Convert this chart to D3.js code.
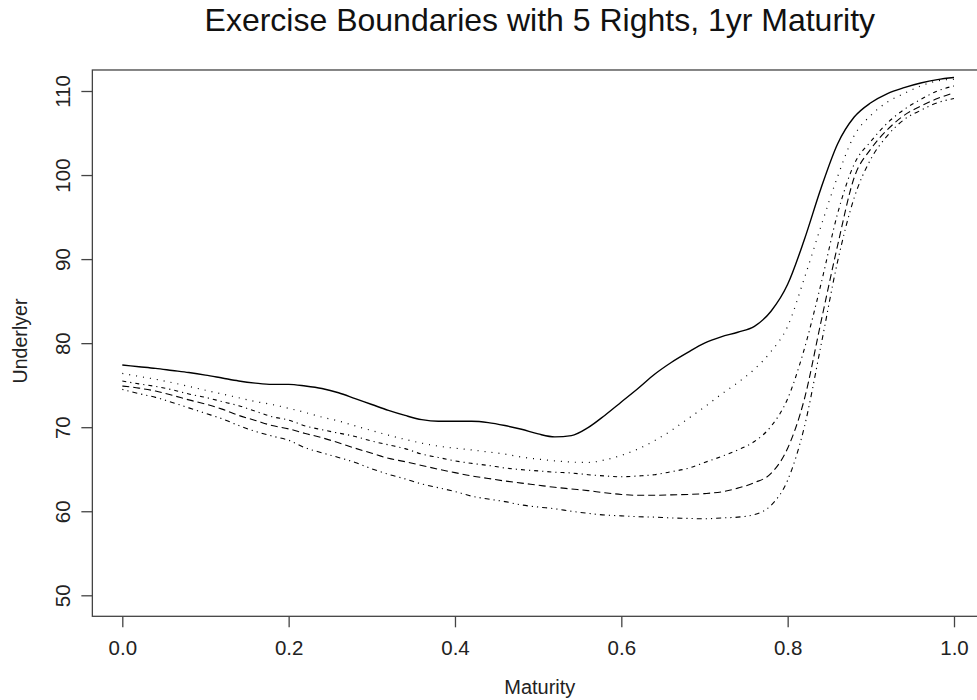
<!DOCTYPE html>
<html>
<head>
<meta charset="utf-8">
<script src="https://cdn.jsdelivr.net/npm/d3@7"></script>
<style>
  html, body { margin: 0; padding: 0; background: #fff; }
  svg { display: block; font-family: "Liberation Sans", Arial, sans-serif; }
</style>
</head>
<body>
<svg id="chart" width="977" height="700"></svg>
<script>
// Time to maturity (years)
const maturity = [0.00,0.02,0.04,0.06,0.08,0.10,0.12,0.14,0.16,0.18,
                  0.20,0.22,0.24,0.26,0.28,0.30,0.32,0.34,0.36,0.38,
                  0.40,0.42,0.44,0.46,0.48,0.50,0.52,0.54,0.56,0.58,
                  0.60,0.62,0.64,0.66,0.68,0.70,0.72,0.74,0.76,0.78,
                  0.80,0.82,0.84,0.86,0.88,0.90,0.92,0.94,0.96,0.98,1.00];

// Exercise boundary (underlyer level) for each remaining right
const boundary1 = [77.4,77.2,77.0,76.75,76.5,76.2,75.85,75.5,75.25,75.1,
                   75.1,74.9,74.6,74.1,73.4,72.7,72.0,71.4,70.9,70.7,
                   70.7,70.7,70.55,70.2,69.75,69.2,68.85,69.0,69.95,71.4,
                   73.0,74.6,76.3,77.7,78.9,80.0,80.75,81.3,82.0,83.8,
                   87.0,92.3,98.4,103.7,106.9,108.6,109.7,110.4,110.95,111.35,111.6];
const boundary2 = [76.4,76.05,75.7,75.3,74.85,74.4,73.95,73.5,73.05,72.7,
                   72.25,71.75,71.2,70.75,70.15,69.6,69.05,68.55,68.1,67.75,
                   67.5,67.3,67.05,66.8,66.45,66.2,66.0,65.85,65.8,66.1,
                   66.65,67.4,68.4,69.6,71.0,72.4,73.9,75.3,76.9,79.0,
                   82.0,87.7,93.9,99.8,104.7,107.1,108.7,109.7,110.6,111.2,111.4];
const boundary3 = [75.5,75.15,74.85,74.45,73.95,73.55,73.05,72.55,71.9,71.25,
                   70.85,70.15,69.7,69.3,68.9,68.35,67.9,67.45,66.8,66.4,
                   66.0,65.7,65.45,65.15,64.95,64.8,64.65,64.55,64.35,64.2,
                   64.1,64.2,64.35,64.7,65.1,65.8,66.5,67.3,68.3,70.1,
                   73.4,79.3,87.0,95.4,101.3,104.0,106.2,107.8,109.0,110.0,110.6];
const boundary4 = [74.9,74.65,74.3,73.8,73.25,72.75,72.15,71.4,70.8,70.2,
                   69.8,69.25,68.75,68.15,67.5,66.9,66.3,65.9,65.45,65.0,
                   64.6,64.2,63.9,63.6,63.35,63.1,62.85,62.65,62.45,62.2,
                   62.0,61.9,61.9,61.95,62.0,62.1,62.3,62.75,63.4,64.5,
                   67.5,73.3,82.5,91.6,99.7,103.1,105.4,107.1,108.2,109.1,109.8];
const boundary5 = [74.5,74.0,73.55,72.95,72.3,71.65,71.0,70.2,69.5,68.95,
                   68.45,67.55,66.95,66.4,65.8,65.05,64.4,63.85,63.25,62.8,
                   62.35,61.8,61.45,61.15,60.75,60.5,60.3,60.0,59.75,59.55,
                   59.45,59.35,59.3,59.2,59.15,59.1,59.2,59.3,59.6,60.7,
                   63.7,70.0,79.7,89.7,97.3,101.9,104.7,106.6,107.7,108.6,109.1];

const xTicks = [0.0, 0.2, 0.4, 0.6, 0.8, 1.0];
const yTicks = [50, 60, 70, 80, 90, 100, 110];

const titleText = "Exercise Boundaries with 5 Rights, 1yr Maturity";
const xLabel = "Maturity";
const yLabel = "Underlyer";

// Line styles, one per boundary
const boundaries = [boundary1, boundary2, boundary3, boundary4, boundary5];
const dashStyles = [null, "1,6", "4,4,1.2,4", "7,4", "1.2,4,1.2,4,5,4"];
const strokeWidths = [1.4, 1.2, 1.1, 1.1, 1.1];

const svg = d3.select("#chart");

const x = d3.scaleLinear().domain([0, 1]).range([122.3, 954]);
const y = d3.scaleLinear().domain([50, 110]).range([595.3, 91]);

// Plot region: data range padded by 4% as in base graphics
const boxLeft = x(-0.036), boxRight = x(1.04);
const boxTop = y(112.5), boxBottom = y(47.5);

const ink = "#222";
const frame = "#444";

// Boundaries
const line = d3.line()
  .x((d, i) => x(maturity[i]))
  .y(d => y(d))
  .curve(d3.curveMonotoneX);

svg.append("g")
  .selectAll("path")
  .data(boundaries)
  .join("path")
  .attr("d", d => line(d))
  .attr("fill", "none")
  .attr("stroke", "#000")
  .attr("stroke-width", (d, i) => strokeWidths[i])
  .attr("stroke-dasharray", (d, i) => dashStyles[i]);

// Frame
svg.append("rect")
  .attr("x", boxLeft)
  .attr("y", boxTop)
  .attr("width", boxRight - boxLeft)
  .attr("height", boxBottom - boxTop)
  .attr("fill", "none")
  .attr("stroke", frame)
  .attr("stroke-width", 1.3);

// Bottom axis
const gx = svg.append("g")
  .attr("transform", `translate(0,${boxBottom})`)
  .call(d3.axisBottom(x).tickValues(xTicks).tickFormat(d3.format(".1f"))
    .tickSize(11).tickPadding(12.7));
gx.select(".domain").remove();
gx.selectAll(".tick line").attr("stroke", frame).attr("stroke-width", 1.3);
gx.selectAll(".tick text")
  .attr("fill", ink)
  .style("font-size", "20.5px")
  .style("font-family", '"Liberation Sans", Arial, sans-serif');

// Left axis with labels reading upward
const gy = svg.append("g")
  .attr("transform", `translate(${boxLeft},0)`)
  .call(d3.axisLeft(y).tickValues(yTicks).tickSize(11));
gy.select(".domain").remove();
gy.selectAll(".tick line").attr("stroke", frame).attr("stroke-width", 1.3);
gy.selectAll(".tick text")
  .attr("x", null).attr("dy", null)
  .attr("text-anchor", "middle")
  .attr("transform", "translate(-22.3,0) rotate(-90)")
  .attr("fill", ink)
  .style("font-size", "20.5px")
  .style("font-family", '"Liberation Sans", Arial, sans-serif');

// Title and axis titles
const midX = (boxLeft + boxRight) / 2;
svg.append("text")
  .attr("x", midX).attr("y", 30.5)
  .attr("text-anchor", "middle")
  .attr("fill", "#111")
  .style("font-size", "32px")
  .text(titleText);

svg.append("text")
  .attr("x", midX).attr("y", 694)
  .attr("text-anchor", "middle")
  .attr("fill", ink)
  .style("font-size", "20px")
  .text(xLabel);

svg.append("text")
  .attr("transform", "translate(26.7,341) rotate(-90)")
  .attr("text-anchor", "middle")
  .attr("fill", ink)
  .style("font-size", "19.6px")
  .text(yLabel);
</script>
</body>
</html>
